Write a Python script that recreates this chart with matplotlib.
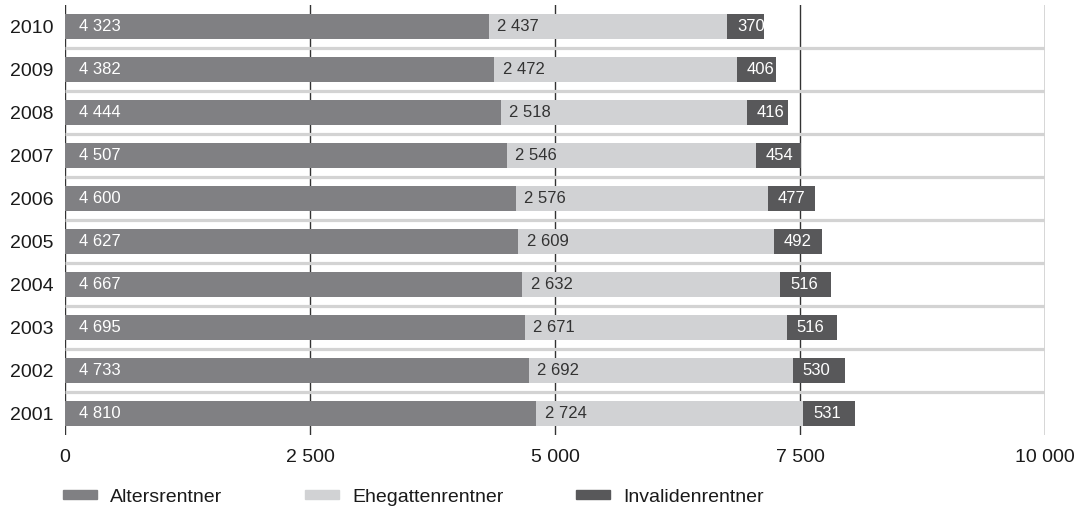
import matplotlib.pyplot as plt
from matplotlib.patches import Patch

years = [2001, 2002, 2003, 2004, 2005, 2006, 2007, 2008, 2009, 2010]
alters = [4810, 4733, 4695, 4667, 4627, 4600, 4507, 4444, 4382, 4323]
ehegatten = [2724, 2692, 2671, 2632, 2609, 2576, 2546, 2518, 2472, 2437]
invaliden = [531, 530, 516, 516, 492, 477, 454, 416, 406, 370]
series_names = ["Altersrentner", "Ehegattenrentner", "Invalidenrentner"]
xticks = [0, 2500, 5000, 7500, 10000]

c_alt = "#808083"
c_ehe = "#d1d2d4"
c_inv = "#58585a"

plt.rcParams["font.family"] = ["Liberation Sans", "DejaVu Sans"]


def fmt(v):
    return f"{v:,}".replace(",", " ")


fig = plt.figure(figsize=(10.78, 5.12), dpi=100)
ax = fig.add_axes([65 / 1078, 1 - 435 / 512, 980 / 1078, 430 / 512])

ypos = list(range(len(years)))
h = 0.56

# vertical grid lines behind bars
for t in xticks:
    ax.axvline(t, color="#333333", lw=1.0, zorder=0)

# light separators between rows
for y in ypos[:-1]:
    ax.hlines(y + 0.5, 0, 10000, color="#d3d3d3", lw=2.3, zorder=1)

left3 = [a + e for a, e in zip(alters, ehegatten)]
ax.barh(ypos, alters, height=h, color=c_alt, zorder=2)
ax.barh(ypos, ehegatten, left=alters, height=h, color=c_ehe, zorder=2)
ax.barh(ypos, invaliden, left=left3, height=h, color=c_inv, zorder=2)

for y, a, e, i in zip(ypos, alters, ehegatten, invaliden):
    ax.annotate(fmt(a), (0, y), xytext=(10, 0), textcoords="offset points",
                va="center", ha="left", fontsize=12, color="white", zorder=3)
    ax.annotate(fmt(e), (a, y), xytext=(6, 0), textcoords="offset points",
                va="center", ha="left", fontsize=12, color="#333333", zorder=3)
    ax.annotate(fmt(i), (a + e, y), xytext=(7, 0), textcoords="offset points",
                va="center", ha="left", fontsize=12, color="white", zorder=3)

ax.set_xlim(0, 10000)
ax.set_ylim(-0.5, len(years) - 0.5)
ax.set_xticks(xticks)
ax.set_xticklabels([fmt(t) for t in xticks], fontsize=14, color="#1a1a1a")
ax.set_yticks(ypos)
ax.set_yticklabels([str(y) for y in years], fontsize=14, color="#1a1a1a")
ax.tick_params(axis="both", length=0)
ax.tick_params(axis="x", pad=10)
ax.tick_params(axis="y", pad=8.5)
for s in ax.spines.values():
    s.set_visible(False)

# legend, one entry at a time
for name, col, x0 in zip(series_names, [c_alt, c_ehe, c_inv], [63, 305, 576]):
    fig.legend(handles=[Patch(color=col, label=name)], loc="center left",
               bbox_to_anchor=(x0 / 1078, 1 - 497 / 512), frameon=False,
               fontsize=14, handlelength=1.75, handleheight=0.35,
               handletextpad=0.67, borderaxespad=0, borderpad=0,
               labelcolor="#1a1a1a")

fig.savefig("out.png", dpi=100)
